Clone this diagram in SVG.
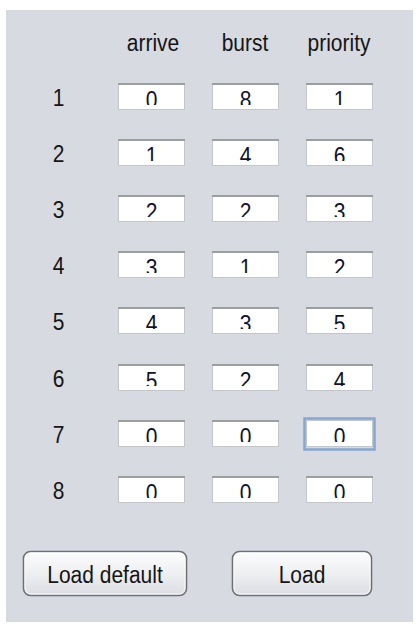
<svg xmlns="http://www.w3.org/2000/svg" width="420" height="634" viewBox="0 0 420 634">
<style>
  .lbl { font-family: "Liberation Sans", Arial, sans-serif; font-size: 21px; fill: #151515; text-anchor: middle; }
  .val { font-family: "Liberation Sans", Arial, sans-serif; font-size: 21px; fill: #10122a; text-anchor: middle; }
  .box { fill: #ffffff; stroke: #c4c6ca; stroke-width: 1; }
  .boxtop { stroke: #9c9ea2; stroke-width: 2; }
  .btn { fill: url(#btnGrad); stroke: #6e7074; stroke-width: 1.6; }
  .btnin { fill: none; stroke: #ffffff; stroke-width: 1; opacity: 0.8; }
  .focus { fill: none; stroke: #86a7cf; stroke-width: 2.5; }
</style>
<defs>
  <linearGradient id="btnGrad" x1="0" y1="0" x2="0" y2="1">
    <stop offset="0" stop-color="#fdfdfd"/>
    <stop offset="0.5" stop-color="#eeeff1"/>
    <stop offset="1" stop-color="#dcdde2"/>
  </linearGradient>
  <clipPath id="c1"><rect x="118" y="83" width="67" height="22"/><rect x="212" y="83" width="67" height="22"/><rect x="306" y="83" width="67" height="22"/></clipPath>
  <clipPath id="c2"><rect x="118" y="139" width="67" height="22"/><rect x="212" y="139" width="67" height="22"/><rect x="306" y="139" width="67" height="22"/></clipPath>
  <clipPath id="c3"><rect x="118" y="195" width="67" height="22"/><rect x="212" y="195" width="67" height="22"/><rect x="306" y="195" width="67" height="22"/></clipPath>
  <clipPath id="c4"><rect x="118" y="251" width="67" height="22"/><rect x="212" y="251" width="67" height="22"/><rect x="306" y="251" width="67" height="22"/></clipPath>
  <clipPath id="c5"><rect x="118" y="307" width="67" height="22"/><rect x="212" y="307" width="67" height="22"/><rect x="306" y="307" width="67" height="22"/></clipPath>
  <clipPath id="c6"><rect x="118" y="364" width="67" height="22"/><rect x="212" y="364" width="67" height="22"/><rect x="306" y="364" width="67" height="22"/></clipPath>
  <clipPath id="c7"><rect x="118" y="420" width="67" height="22"/><rect x="212" y="420" width="67" height="22"/><rect x="306" y="420" width="67" height="22"/></clipPath>
  <clipPath id="c8"><rect x="118" y="476" width="67" height="22"/><rect x="212" y="476" width="67" height="22"/><rect x="306" y="476" width="67" height="22"/></clipPath>
</defs>
<rect x="0" y="0" width="420" height="634" fill="#ffffff"/>
<rect id="panel" x="6" y="10" width="407" height="612" fill="#d7dae1"/>

<g id="headers">
  <text class="lbl" transform="translate(153 51) scale(1 1.15)">arrive</text>
  <text class="lbl" transform="translate(245 51) scale(1 1.15)">burst</text>
  <text class="lbl" transform="translate(339 51) scale(1 1.15)">priority</text>
</g>

<g id="row-labels">
  <text class="lbl" transform="translate(58.5 106) scale(1 1.15)">1</text>
  <text class="lbl" transform="translate(58.5 162) scale(1 1.15)">2</text>
  <text class="lbl" transform="translate(58.5 218) scale(1 1.15)">3</text>
  <text class="lbl" transform="translate(58.5 274) scale(1 1.15)">4</text>
  <text class="lbl" transform="translate(58.5 330) scale(1 1.15)">5</text>
  <text class="lbl" transform="translate(58.5 387) scale(1 1.15)">6</text>
  <text class="lbl" transform="translate(58.5 443) scale(1 1.15)">7</text>
  <text class="lbl" transform="translate(58.5 499) scale(1 1.15)">8</text>
</g>

<g id="row1">
  <rect class="box" x="118.5" y="83.5" width="66" height="26"/><rect class="box" x="212.5" y="83.5" width="66" height="26"/><rect class="box" x="306.5" y="83.5" width="66" height="26"/>
  <path class="boxtop" d="M118 84H185M212 84H279M306 84H373"/>
  <g clip-path="url(#c1)">
    <text class="val" transform="translate(151.5 107.5) scale(1 1.15)">0</text>
    <text class="val" transform="translate(245.5 107.5) scale(1 1.15)">8</text>
    <text class="val" transform="translate(339.5 107.5) scale(1 1.15)">1</text>
  </g>
</g>
<g id="row2">
  <rect class="box" x="118.5" y="139.5" width="66" height="26"/><rect class="box" x="212.5" y="139.5" width="66" height="26"/><rect class="box" x="306.5" y="139.5" width="66" height="26"/>
  <path class="boxtop" d="M118 140H185M212 140H279M306 140H373"/>
  <g clip-path="url(#c2)">
    <text class="val" transform="translate(151.5 163.5) scale(1 1.15)">1</text>
    <text class="val" transform="translate(245.5 163.5) scale(1 1.15)">4</text>
    <text class="val" transform="translate(339.5 163.5) scale(1 1.15)">6</text>
  </g>
</g>
<g id="row3">
  <rect class="box" x="118.5" y="195.5" width="66" height="26"/><rect class="box" x="212.5" y="195.5" width="66" height="26"/><rect class="box" x="306.5" y="195.5" width="66" height="26"/>
  <path class="boxtop" d="M118 196H185M212 196H279M306 196H373"/>
  <g clip-path="url(#c3)">
    <text class="val" transform="translate(151.5 219.5) scale(1 1.15)">2</text>
    <text class="val" transform="translate(245.5 219.5) scale(1 1.15)">2</text>
    <text class="val" transform="translate(339.5 219.5) scale(1 1.15)">3</text>
  </g>
</g>
<g id="row4">
  <rect class="box" x="118.5" y="251.5" width="66" height="26"/><rect class="box" x="212.5" y="251.5" width="66" height="26"/><rect class="box" x="306.5" y="251.5" width="66" height="26"/>
  <path class="boxtop" d="M118 252H185M212 252H279M306 252H373"/>
  <g clip-path="url(#c4)">
    <text class="val" transform="translate(151.5 275.5) scale(1 1.15)">3</text>
    <text class="val" transform="translate(245.5 275.5) scale(1 1.15)">1</text>
    <text class="val" transform="translate(339.5 275.5) scale(1 1.15)">2</text>
  </g>
</g>
<g id="row5">
  <rect class="box" x="118.5" y="307.5" width="66" height="26"/><rect class="box" x="212.5" y="307.5" width="66" height="26"/><rect class="box" x="306.5" y="307.5" width="66" height="26"/>
  <path class="boxtop" d="M118 308H185M212 308H279M306 308H373"/>
  <g clip-path="url(#c5)">
    <text class="val" transform="translate(151.5 331.5) scale(1 1.15)">4</text>
    <text class="val" transform="translate(245.5 331.5) scale(1 1.15)">3</text>
    <text class="val" transform="translate(339.5 331.5) scale(1 1.15)">5</text>
  </g>
</g>
<g id="row6">
  <rect class="box" x="118.5" y="364.5" width="66" height="26"/><rect class="box" x="212.5" y="364.5" width="66" height="26"/><rect class="box" x="306.5" y="364.5" width="66" height="26"/>
  <path class="boxtop" d="M118 365H185M212 365H279M306 365H373"/>
  <g clip-path="url(#c6)">
    <text class="val" transform="translate(151.5 388.5) scale(1 1.15)">5</text>
    <text class="val" transform="translate(245.5 388.5) scale(1 1.15)">2</text>
    <text class="val" transform="translate(339.5 388.5) scale(1 1.15)">4</text>
  </g>
</g>
<g id="row7">
  <rect class="box" x="118.5" y="420.5" width="66" height="26"/><rect class="box" x="212.5" y="420.5" width="66" height="26"/><rect class="box" x="306.5" y="420.5" width="66" height="26"/>
  <path class="boxtop" d="M118 421H185M212 421H279"/>
  <rect class="focus" x="304.5" y="418.5" width="70" height="31"/>
  <g clip-path="url(#c7)">
    <text class="val" transform="translate(151.5 444.5) scale(1 1.15)">0</text>
    <text class="val" transform="translate(245.5 444.5) scale(1 1.15)">0</text>
    <text class="val" transform="translate(339.5 444.5) scale(1 1.15)">0</text>
  </g>
</g>
<g id="row8">
  <rect class="box" x="118.5" y="476.5" width="66" height="26"/><rect class="box" x="212.5" y="476.5" width="66" height="26"/><rect class="box" x="306.5" y="476.5" width="66" height="26"/>
  <path class="boxtop" d="M118 477H185M212 477H279M306 477H373"/>
  <g clip-path="url(#c8)">
    <text class="val" transform="translate(151.5 500.5) scale(1 1.15)">0</text>
    <text class="val" transform="translate(245.5 500.5) scale(1 1.15)">0</text>
    <text class="val" transform="translate(339.5 500.5) scale(1 1.15)">0</text>
  </g>
</g>

<g id="btn-load-default">
  <rect class="btn" x="23.5" y="551.5" width="163" height="44" rx="7"/>
  <rect class="btnin" x="25" y="553" width="160" height="41" rx="6"/>
  <text class="lbl" transform="translate(105 583) scale(1 1.15)">Load default</text>
</g>
<g id="btn-load">
  <rect class="btn" x="232.5" y="551.5" width="139" height="44" rx="7"/>
  <rect class="btnin" x="234" y="553" width="136" height="41" rx="6"/>
  <text class="lbl" transform="translate(302 583) scale(1 1.15)">Load</text>
</g>
<g id="connectors"/>
</svg>
